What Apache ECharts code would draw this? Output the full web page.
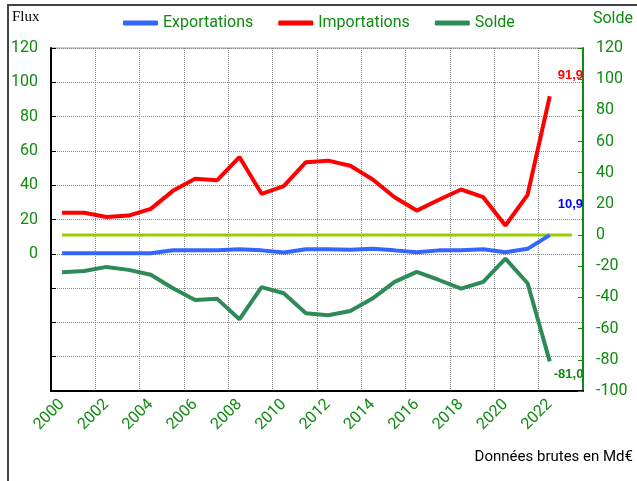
<!DOCTYPE html>
<html>
<head>
<meta charset="utf-8">
<script src="https://cdn.jsdelivr.net/npm/echarts@6/dist/echarts.min.js"></script>
<style>
  html, body { margin: 0; padding: 0; background: #fff; }
  #chart { width: 637px; height: 481px; }
</style>
</head>
<body>
<div id="chart"></div>
<script>
// années (une bande vide pour 2023)
const years = ['2000', '2001', '2002', '2003', '2004', '2005', '2006', '2007', '2008', '2009', '2010', '2011',
  '2012', '2013', '2014', '2015', '2016', '2017', '2018', '2019', '2020', '2021', '2022', '2023'];

// flux en Md€ (axe gauche)
const exportations = [0.3, 0.3, 0.3, 0.3, 0.3, 2.1, 2.0, 2.0, 2.7, 2.0, 0.7, 2.7,
  2.7, 2.3, 2.9, 2.0, 0.9, 2.0, 2.0, 2.7, 0.9, 2.9, 10.9];
const importations = [23.9, 23.9, 21.5, 22.3, 26.2, 36.7, 43.7, 42.9, 56.4, 35.0, 39.4, 53.4,
  54.3, 51.3, 43.5, 33.0, 25.2, 31.5, 37.5, 33.0, 16.5, 34.4, 91.9];

// solde (axe droit)
const solde = [-23.8, -23.0, -20.4, -22.3, -25.4, -34.1, -41.6, -40.9, -54.0, -33.4, -37.3, -50.1,
  -51.4, -48.7, -40.7, -30.0, -23.6, -28.8, -34.3, -30.0, -15.1, -30.9, -81.0];
const zeroLine = years.map(() => 0);

const leftTicks = { min: -80, max: 120, step: 20 };
const rightTicks = { min: -100, max: 120, step: 20 };

const green = '#108a10';
const gridLine = { show: true, lineStyle: { color: '#888', type: [1, 1], width: 1 } };
const fmt = v => v.toFixed(1).replace('.', ',');

let chart = echarts.init(document.getElementById('chart'));

const option = {
  animation: false,
  textStyle: { fontFamily: 'Roboto' },
  grid: {
    left: 51, right: 54, top: 48, bottom: 90,
    show: true, borderColor: '#999', borderWidth: 1
  },
  legend: {
    data: ['Exportations', 'Importations', 'Solde'],
    left: 118, top: 10,
    icon: 'roundRect',
    itemWidth: 35, itemHeight: 5, itemGap: 25,
    textStyle: { color: green, fontSize: 16, fontFamily: 'Roboto' }
  },
  graphic: [
    {
      type: 'polyline',
      shape: { points: [[8, 481], [8, 5], [637, 5]] },
      style: { stroke: '#444', lineWidth: 2, fill: null }
    },
    {
      type: 'text', left: 12, top: 10,
      style: { text: 'Flux', font: '15px "Liberation Serif"', fill: '#000' }
    },
    {
      type: 'text', right: 4, top: 11,
      style: { text: 'Solde', font: '16px Roboto', fill: green }
    },
    {
      type: 'text', right: 4, top: 450,
      style: { text: 'Données brutes en Md€', font: '15px Roboto', fill: '#000' }
    }
  ],
  xAxis: {
    type: 'category',
    data: years,
    boundaryGap: true,
    axisLine: { onZero: false, lineStyle: { color: '#000', width: 2 } },
    axisTick: { show: false },
    axisLabel: { interval: 1, rotate: 45, color: green, fontSize: 16, margin: 11 },
    splitLine: gridLine
  },
  yAxis: [
    {
      type: 'value',
      position: 'left',
      min: leftTicks.min, max: leftTicks.max, interval: leftTicks.step,
      axisLine: { show: true, lineStyle: { color: '#000', width: 2 } },
      axisTick: { show: true, inside: true, length: 5, lineStyle: { color: '#000' } },
      axisLabel: { color: green, fontSize: 16, margin: 13, formatter: v => (v < 0 ? '' : v) },
      splitLine: gridLine
    },
    {
      type: 'value',
      position: 'right',
      min: rightTicks.min, max: rightTicks.max, interval: rightTicks.step,
      axisLine: { show: true, lineStyle: { color: green, width: 2 } },
      axisTick: { show: true, inside: true, length: 5, lineStyle: { color: green } },
      axisLabel: { color: green, fontSize: 16, margin: 13 },
      splitLine: { show: false }
    }
  ],
  series: [
    {
      name: 'zero',
      type: 'line',
      yAxisIndex: 1,
      data: zeroLine,
      showSymbol: false,
      lineStyle: { color: '#99cc00', width: 3 },
      itemStyle: { color: '#99cc00' },
      z: 1
    },
    {
      name: 'Exportations',
      type: 'line',
      yAxisIndex: 0,
      data: exportations,
      showSymbol: false,
      lineStyle: { color: '#3366ff', width: 4 },
      itemStyle: { color: '#3366ff' },
      endLabel: {
        show: true, formatter: p => fmt(p.value), offset: [0, -31],
        color: '#0000ff', fontWeight: 'bold', fontSize: 13, fontFamily: 'Liberation Sans'
      }
    },
    {
      name: 'Importations',
      type: 'line',
      yAxisIndex: 0,
      data: importations,
      showSymbol: false,
      lineStyle: { color: '#ff0000', width: 4 },
      itemStyle: { color: '#ff0000' },
      endLabel: {
        show: true, formatter: p => fmt(p.value), offset: [0, -21],
        color: '#ff0000', fontWeight: 'bold', fontSize: 13, fontFamily: 'Liberation Sans'
      }
    },
    {
      name: 'Solde',
      type: 'line',
      yAxisIndex: 1,
      data: solde,
      showSymbol: false,
      lineStyle: { color: '#2e8b57', width: 4 },
      itemStyle: { color: '#2e8b57' },
      endLabel: {
        show: true, formatter: p => fmt(p.value), offset: [-4, 13],
        color: '#108a10', fontWeight: 'bold', fontSize: 13, fontFamily: 'Liberation Sans'
      }
    }
  ]
};

option && chart.setOption(option);
</script>
</body>
</html>
